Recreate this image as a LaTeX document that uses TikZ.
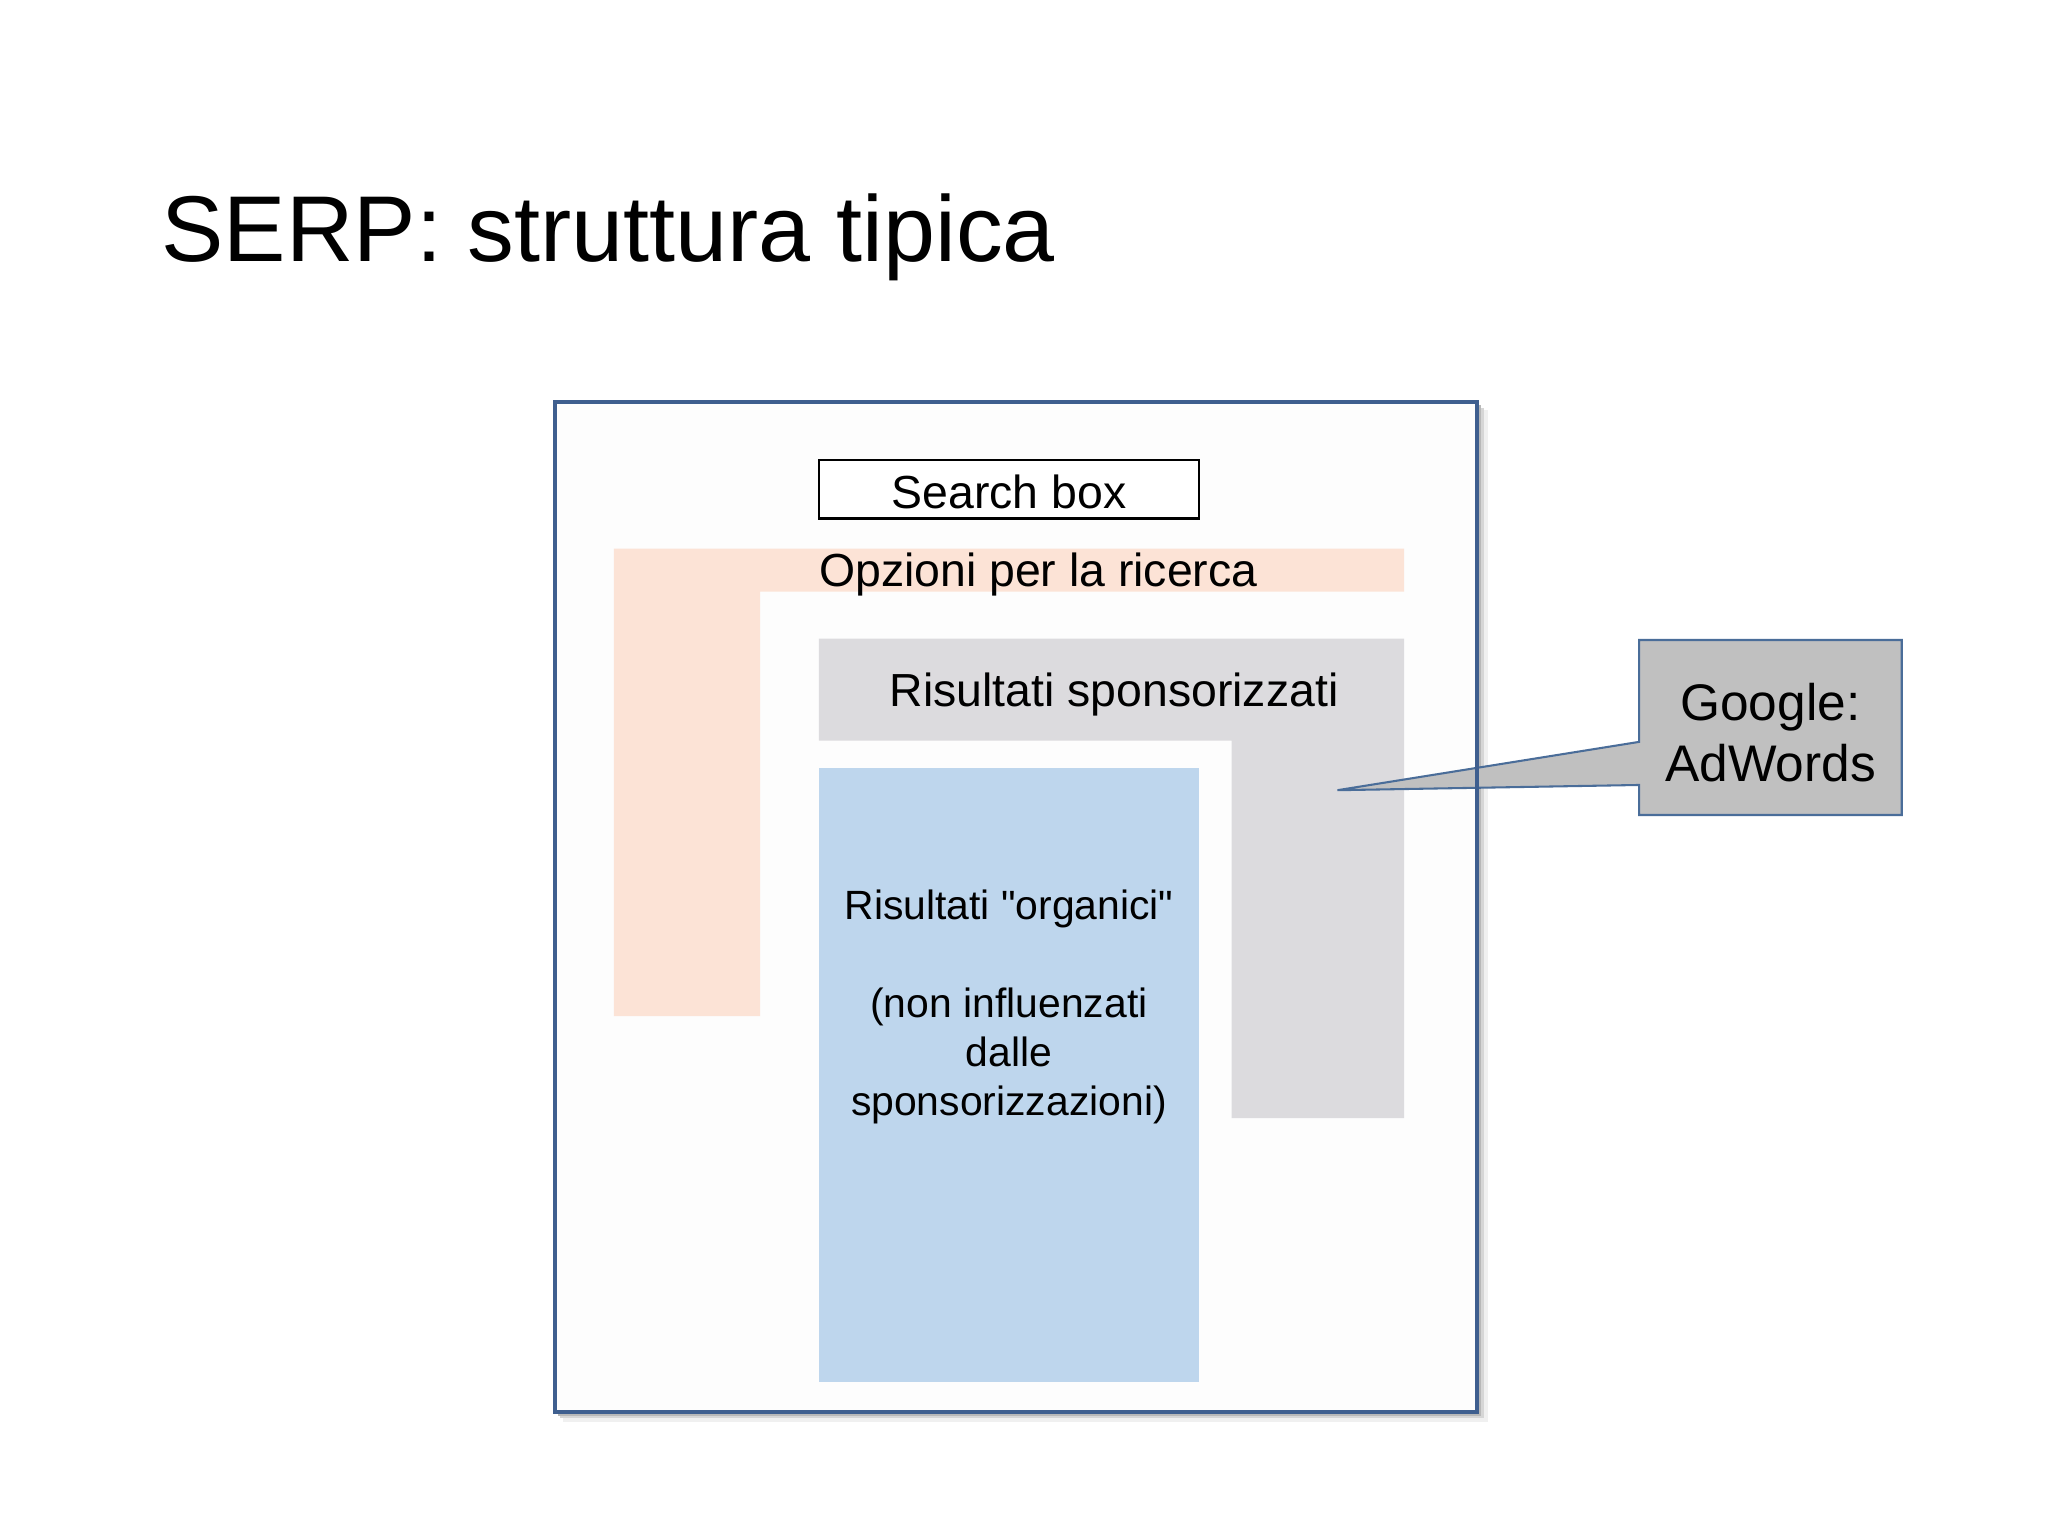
\documentclass[tikz,border=0pt]{standalone}
\usepackage{fontspec}
\setmainfont{Liberation Sans}[Ligatures=TeXOff]
\definecolor{frameblue}{HTML}{3F5F8F}
\definecolor{calloutblue}{HTML}{4A6D99}
\definecolor{peach}{HTML}{FCE3D6}
\definecolor{lgray}{HTML}{DCDBDE}
\definecolor{lblue}{HTML}{BED6ED}
\definecolor{cgray}{HTML}{C0C0C0}
\definecolor{framefill}{HTML}{FDFDFD}
\begin{document}
\begin{tikzpicture}[x=0.01cm,y=-0.01cm,
  inner/.style={font=\fontsize{10.1pt}{12.1pt}\selectfont, inner sep=0pt, align=center},
  organic/.style={font=\fontsize{8.9pt}{10.7pt}\selectfont, inner sep=0pt, align=center},
  callouttext/.style={font=\fontsize{11.2pt}{13.4pt}\selectfont, inner sep=0pt, align=center}]
\useasboundingbox[fill=white] (0,0) rectangle (1568,1176);
% title
\node[anchor=base west, inner sep=0pt, font=\fontsize{20.35pt}{24pt}\selectfont] (title) at (123,200) {SERP: struttura tipica};
% outer frame shadow
\fill[black!6] (431,314) rectangle (1139,1089);
\fill[black!16] (429,312) rectangle (1136,1086);
\fill[black!28] (427,310) rectangle (1134,1084);
\fill[framefill] (425,308) rectangle (1131,1081);
% search box
\draw[line width=0.45pt, fill=white] (627,352) rectangle (918,397);
\node[inner] (search) at (772.5,377) {Search box};
% orange L
\fill[peach] (470,420) -- (1075,420) -- (1075,453) -- (582,453) -- (582,778) -- (470,778) -- cycle;
\node[inner] (opzioni) at (795,440) {Opzioni per la ricerca};
% gray L
\fill[lgray] (627,489) -- (1075,489) -- (1075,856) -- (943,856) -- (943,567) -- (627,567) -- cycle;
\node[inner] (sponsor) at (853,532) {Risultati sponsorizzati};
% blue
\fill[lblue] (627,588) rectangle (918,1058);
\node[organic] (organici) at (772.5,771) {Risultati "organici"\\[10.7pt](non influenzati\\dalle\\sponsorizzazioni)};
% callout
\coordinate (tip) at (1024,605);
\draw[calloutblue, line width=0.45pt, fill=cgray] (1255,490) -- (1456,490) -- (1456,624) -- (1255,624) -- (1255,601) -- (tip) -- (1255,568) -- cycle;
\node[callouttext] (adwords) at (1355.5,561) {Google:\\AdWords};
% frame border on top
\draw[frameblue, line width=0.95pt] (425,308) rectangle (1131,1081);
\end{tikzpicture}
\end{document}
